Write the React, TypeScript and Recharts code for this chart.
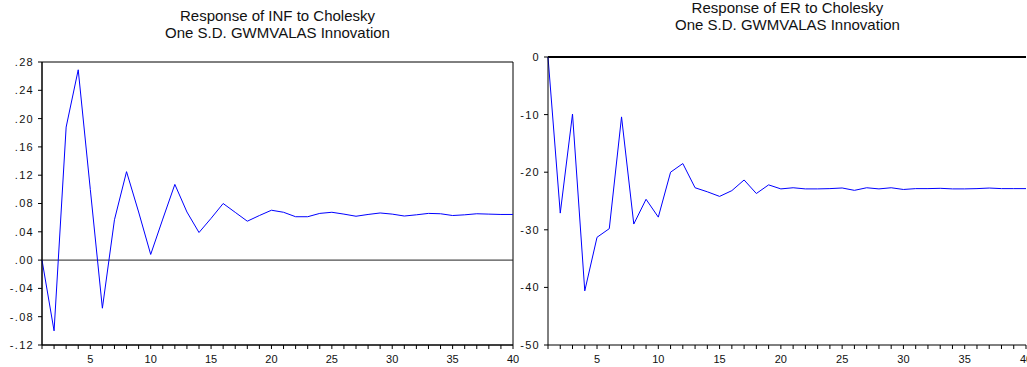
import React from "react";
import {
  LineChart,
  Line,
  XAxis,
  YAxis,
  ReferenceLine,
  ReferenceArea,
} from "recharts";

const periods = [
  1, 2, 3, 4, 5, 6, 7, 8, 9, 10, 11, 12, 13, 14, 15, 16, 17, 18, 19, 20,
  21, 22, 23, 24, 25, 26, 27, 28, 29, 30, 31, 32, 33, 34, 35, 36, 37, 38, 39, 40,
];

const infResponse = [
  0, -0.1, 0.188, 0.269, 0.1, -0.068, 0.057, 0.125, 0.068, 0.008,
  0.058, 0.107, 0.068, 0.039, 0.059, 0.08, 0.0675, 0.055, 0.063, 0.0705,
  0.0676, 0.0613, 0.0613, 0.066, 0.0676, 0.065, 0.062, 0.0645, 0.0666, 0.065,
  0.0623, 0.064, 0.066, 0.0655, 0.063, 0.064, 0.0655, 0.065, 0.0645, 0.0645,
];

const erResponse = [
  0, -27.1, -9.9, -40.6, -31.3, -29.8, -10.4, -29.0, -24.7, -27.8,
  -20.0, -18.5, -22.7, -23.4, -24.2, -23.2, -21.35, -23.7, -22.2, -22.9,
  -22.7, -22.9, -22.9, -22.85, -22.74, -23.15, -22.7, -22.9, -22.7, -23.0,
  -22.85, -22.85, -22.8, -22.9, -22.9, -22.85, -22.75, -22.85, -22.85, -22.85,
];

const xTicks = periods;
const infTicks = [-0.12, -0.08, -0.04, 0, 0.04, 0.08, 0.12, 0.16, 0.2, 0.24, 0.28];
const erTicks = [-50, -40, -30, -20, -10, 0];

const infTitle = ["Response of INF to Cholesky", "One S.D. GWMVALAS Innovation"];
const erTitle = ["Response of ER to Cholesky", "One S.D. GWMVALAS Innovation"];

const infData = periods.map((p, i) => ({ period: p, value: infResponse[i] }));
const erData = periods.map((p, i) => ({ period: p, value: erResponse[i] }));

const FONT = '"Liberation Sans", Arial, sans-serif';
const tickStyle = { fontSize: 11, fill: "#111", fontFamily: FONT };
const yTickStyle = { ...tickStyle, letterSpacing: 1.3 };

const xLabel = (v: number) => (v % 5 === 0 ? String(v) : "");
const decLabel = (v: number) => v.toFixed(2).replace("0.", ".");

const Title = ({ lines, left, top, width }: { lines: string[]; left: number; top: number; width: number }) => (
  <div
    style={{
      position: "absolute",
      left,
      top,
      width,
      textAlign: "center",
      fontFamily: FONT,
      fontSize: 15,
      lineHeight: "17px",
      color: "#111",
    }}
  >
    {lines.map((l) => (
      <div key={l}>{l}</div>
    ))}
  </div>
);

export default function App() {
  return (
    <div
      style={{
        position: "absolute",
        left: 0,
        top: 0,
        width: 1027,
        height: 367,
        overflow: "hidden",
        background: "#fff",
      }}
    >
      <Title lines={infTitle} left={42} top={7} width={471} />
      <Title lines={erTitle} left={548} top={-1} width={479} />

      <div style={{ position: "absolute", left: 0, top: 0 }}>
        <LineChart
          width={520}
          height={367}
          data={infData}
          margin={{ top: 62, right: 7, bottom: 0, left: 0 }}
        >
          <XAxis
            dataKey="period"
            type="number"
            domain={[1, 40]}
            ticks={xTicks}
            interval={0}
            tickFormatter={xLabel}
            tickSize={4}
            tickMargin={6}
            height={22}
            stroke="#000"
            tick={tickStyle}
          />
          <YAxis
            type="number"
            domain={[-0.12, 0.28]}
            ticks={infTicks}
            interval={0}
            tickFormatter={decLabel}
            tickSize={4}
            tickMargin={4}
            width={42}
            stroke="#000"
            tick={yTickStyle}
          />
          <ReferenceArea
            x1={1}
            x2={40}
            y1={-0.12}
            y2={0.28}
            fill="none"
            stroke="#000"
            strokeWidth={1}
            fillOpacity={0}
          />
          <ReferenceLine y={0} stroke="#222" strokeWidth={1} />
          <Line
            type="linear"
            dataKey="value"
            stroke="#0000ff"
            strokeWidth={1}
            dot={false}
            isAnimationActive={false}
          />
        </LineChart>
      </div>

      <div style={{ position: "absolute", left: 510, top: 0 }}>
        <LineChart
          width={517}
          height={367}
          data={erData}
          margin={{ top: 57, right: 1, bottom: 0, left: 0 }}
        >
          <XAxis
            dataKey="period"
            type="number"
            domain={[1, 40]}
            ticks={xTicks}
            interval={0}
            tickFormatter={xLabel}
            tickSize={4}
            tickMargin={6}
            height={22}
            stroke="#000"
            tick={tickStyle}
          />
          <YAxis
            type="number"
            domain={[-50, 0]}
            ticks={erTicks}
            interval={0}
            tickSize={4}
            tickMargin={4}
            width={38}
            stroke="#000"
            tick={yTickStyle}
          />
          <ReferenceLine y={0} stroke="#000" strokeWidth={2} />
          <Line
            type="linear"
            dataKey="value"
            stroke="#0000ff"
            strokeWidth={1}
            dot={false}
            isAnimationActive={false}
          />
        </LineChart>
      </div>
    </div>
  );
}
